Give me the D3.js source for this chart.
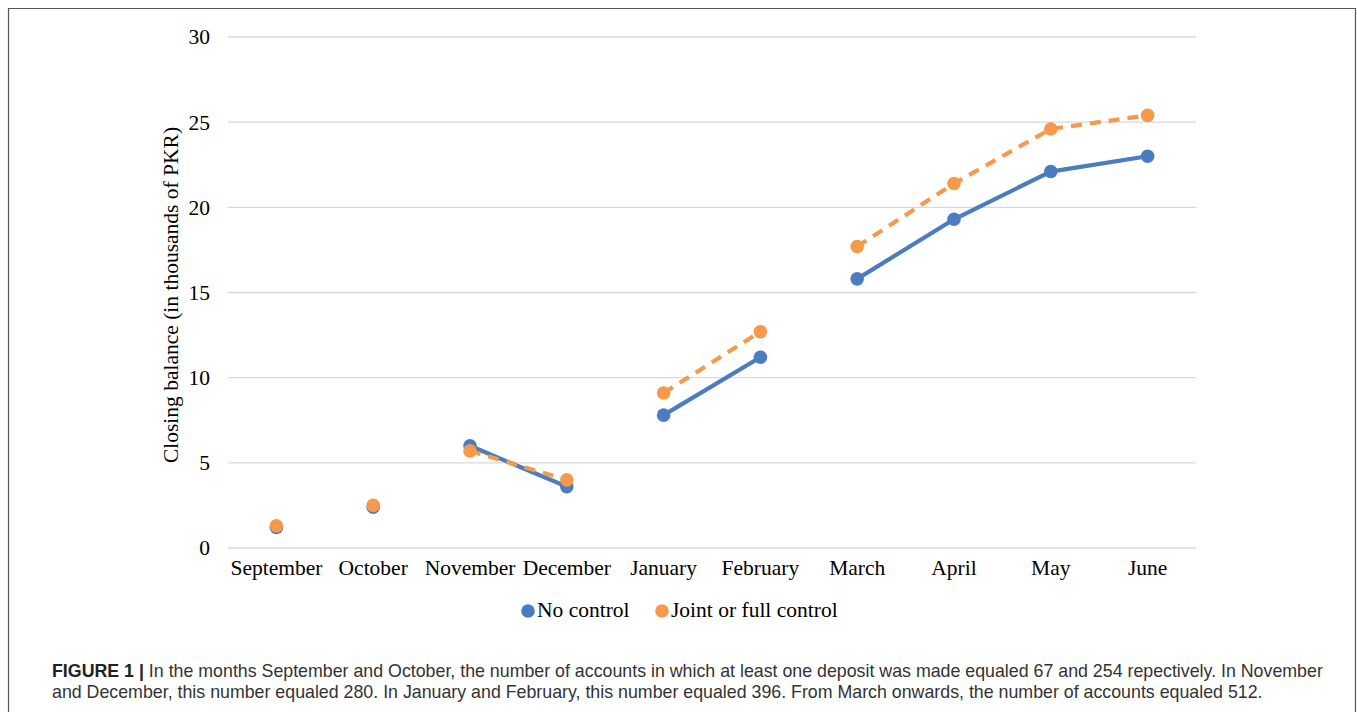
<!DOCTYPE html>
<html><head><meta charset="utf-8">
<script src="https://cdnjs.cloudflare.com/ajax/libs/d3/7.8.5/d3.min.js"></script>
<style>
html,body{margin:0;padding:0;background:#fff;}
svg{display:block;}
</style></head>
<body>
<svg id="chart" width="1357" height="712"></svg>
<script>
const months = ["September","October","November","December","January","February","March","April","May","June"];
const noControl = [1.2, 2.4, 6.0, 3.6, 7.8, 11.2, 15.8, 19.3, 22.1, 23.0];
const jointControl = [1.3, 2.5, 5.7, 4.0, 9.1, 12.7, 17.7, 21.4, 24.6, 25.4];
const segments = [[0,0],[1,1],[2,3],[4,5],[6,9]];
const yTicks = [0,5,10,15,20,25,30];
const seriesNames = ["No control","Joint or full control"];
const colors = ["#4a7dbf","#f5994a"];
const captionBold = "FIGURE 1 |";
const captionLines = [
  " In the months September and October, the number of accounts in which at least one deposit was made equaled 67 and 254 repectively. In November",
  "and December, this number equaled 280. In January and February, this number equaled 396. From March onwards, the number of accounts equaled 512."
];

const svg = d3.select("#chart");
// frame
svg.append("path").attr("d","M8.5,712 V8.5 H1355.5 V712").attr("fill","none").attr("stroke","#555").attr("stroke-width",1.2);

const x = d3.scaleBand().domain(months).range([228,1196]).padding(0);
const y = d3.scaleLinear().domain([0,30]).range([548,37]);

const serif = "'Liberation Serif','Times New Roman',serif";
const fs = 21.5;
// gridlines
svg.append("g").selectAll("line").data(yTicks).join("line")
  .attr("x1",228).attr("x2",1196).attr("y1",d=>y(d)).attr("y2",d=>y(d))
  .attr("stroke","#d9d9d9").attr("stroke-width",1.3);

// y axis
const yAxis = svg.append("g").attr("transform","translate(228,0)")
  .call(d3.axisLeft(y).tickValues(yTicks).tickSize(0).tickPadding(18));
yAxis.select(".domain").remove();
yAxis.selectAll("text").attr("font-family",serif).attr("font-size",fs).attr("fill","#000");

// x axis
const xAxis = svg.append("g").attr("transform","translate(0,548)")
  .call(d3.axisBottom(x).tickSize(0).tickPadding(12));
xAxis.select(".domain").remove();
xAxis.selectAll("text").attr("font-family",serif).attr("font-size",fs).attr("fill","#000");

// y title
svg.append("text").attr("transform","translate(178,295) rotate(-90)")
  .attr("text-anchor","middle").attr("font-family",serif).attr("font-size",fs).attr("fill","#000")
  .text("Closing balance (in thousands of PKR)");

const cx = i => x(months[i]) + x.bandwidth()/2;
const line = d3.line().x(d=>cx(d.i)).y(d=>y(d.v));
const allSeries = [noControl, jointControl];
allSeries.forEach((vals, s) => {
  const g = svg.append("g");
  segments.forEach(([a,b]) => {
    if (b > a) {
      const pts = d3.range(a,b+1).map(i=>({i, v: vals[i]}));
      g.append("path").attr("d", line(pts)).attr("fill","none")
        .attr("stroke",colors[s]).attr("stroke-width",4.2)
        .attr("stroke-dasharray", s===1 ? "11,8" : null);
    }
  });
  g.selectAll("circle").data(vals).join("circle")
    .attr("cx",(d,i)=>cx(i)).attr("cy",d=>y(d)).attr("r",6.8).attr("fill",colors[s]);
});

// legend
const leg = svg.append("g");
const legX = [528, 662];
seriesNames.forEach((n,i)=>{
  leg.append("circle").attr("cx",legX[i]).attr("cy",611).attr("r",6.8).attr("fill",colors[i]);
  leg.append("text").attr("x",legX[i]+9).attr("y",617).attr("font-family",serif).attr("font-size",fs).attr("fill","#000").text(n);
});

// caption
const sans = "'Liberation Sans',Arial,Helvetica,sans-serif";
const cfs = 17.8;
const t1 = svg.append("text").attr("x",52).attr("y",677).attr("font-family",sans).attr("font-size",cfs).attr("fill","#333");
t1.append("tspan").attr("font-weight","bold").attr("fill","#222").text(captionBold);
t1.append("tspan").text(captionLines[0]);
svg.append("text").attr("x",52).attr("y",698).attr("font-family",sans).attr("font-size",cfs).attr("fill","#333").text(captionLines[1]);
</script>
</body></html>
